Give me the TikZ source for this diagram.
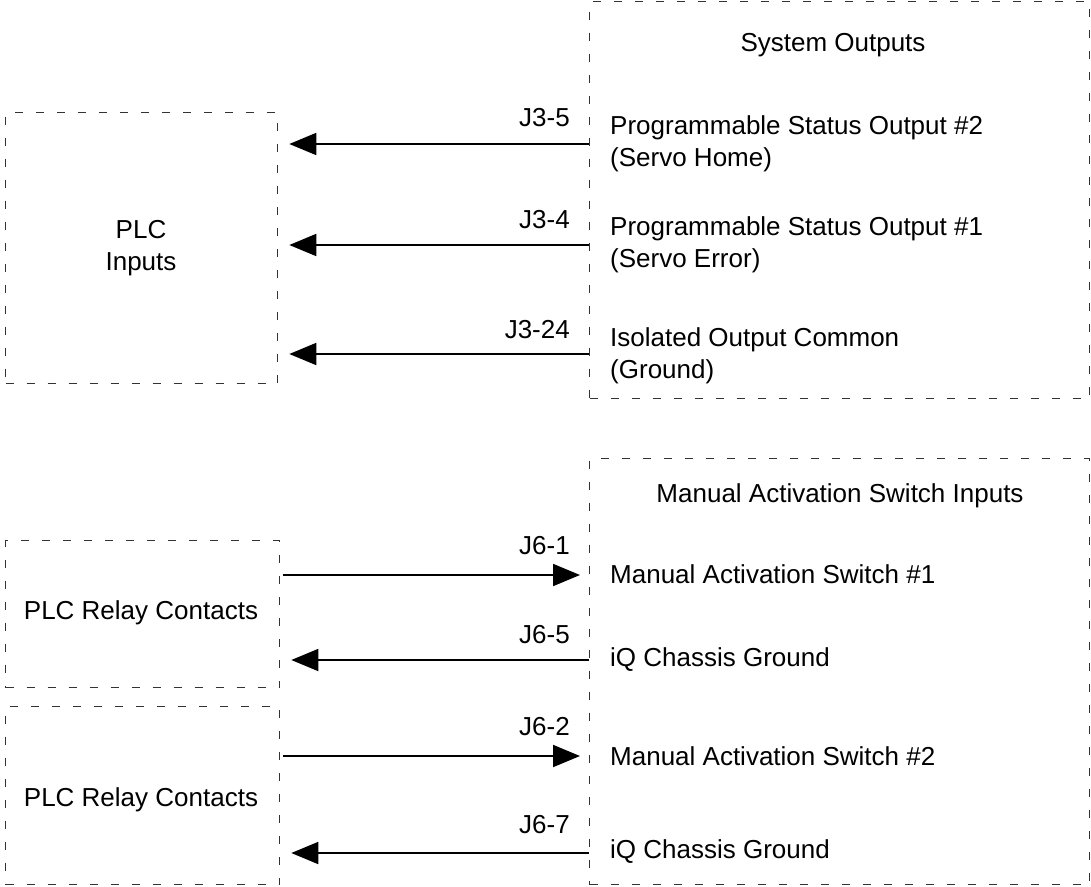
\documentclass[tikz,border=0pt]{standalone}
\usepackage{fontspec}
\setmainfont{Liberation Sans}
\usetikzlibrary{arrows.meta}
\begin{document}
\begin{tikzpicture}[x=1pt,y=-1pt,
  box/.style={draw=black!80, line width=1.3pt, dash pattern=on 8pt off 13pt, anchor=north west, inner sep=0pt},
  txt/.style={font=\fontsize{26}{32}\selectfont, inner sep=0pt},
  lbl/.style={font=\fontsize{26}{32}\selectfont, inner sep=0pt, anchor=east},
  arr/.style={line width=1.8pt, -{Triangle[length=27pt,width=22pt]}}]
\useasboundingbox (0,0) rectangle (1091,886);
% boxes
\node[box, minimum width=500pt, minimum height=397pt] (sys) at (589,1) {};
\node[box, minimum width=272pt, minimum height=271pt] (plc) at (5,112) {};
\node[box, minimum width=500pt, minimum height=426pt] (man) at (589,458) {};
\node[box, minimum width=274pt, minimum height=147pt] (r1) at (5,540) {};
\node[box, minimum width=274pt, minimum height=178pt] (r2) at (5,706) {};
% titles
\node[txt] (systitle) at (833,45) {System Outputs};
\node[txt] (mantitle) at (840,496) {Manual Activation Switch Inputs};
\node[txt, align=center] (plct) at (141,248) {PLC\\Inputs};
\node[txt] (r1t) at (141,613) {PLC Relay Contacts};
\node[txt] (r2t) at (141,800) {PLC Relay Contacts};
% right texts
\node[txt, anchor=west, align=left] (o2) at (610,144) {Programmable Status Output \#2\\(Servo Home)};
\node[txt, anchor=west, align=left] (o1) at (610,245) {Programmable Status Output \#1\\(Servo Error)};
\node[txt, anchor=west, align=left] (oc) at (610,356) {Isolated Output Common\\(Ground)};
\node[txt, anchor=west] (m1) at (610,574) {Manual Activation Switch \#1};
\node[txt, anchor=west] (g1) at (610,660) {iQ Chassis Ground};
\node[txt, anchor=west] (m2) at (610,756) {Manual Activation Switch \#2};
\node[txt, anchor=west] (g2) at (610,852) {iQ Chassis Ground};
% coordinates
\coordinate (a1) at (589,144);
\coordinate (a2) at (589,245);
\coordinate (a3) at (589,354);
\coordinate (b1) at (589,575);
\coordinate (b2) at (589,660);
\coordinate (b3) at (589,756);
\coordinate (b4) at (589,853);
% arrows
\draw[arr, shorten >=11pt] (a1) -- (a1 -| plc.east);
\draw[arr, shorten >=11pt] (a2) -- (a2 -| plc.east);
\draw[arr, shorten >=11pt] (a3) -- (a3 -| plc.east);
\draw[arr, shorten <=3pt, shorten >=9pt] (b1 -| r1.east) -- (b1);
\draw[arr, shorten >=11pt] (b2) -- (b2 -| r1.east);
\draw[arr, shorten <=3pt, shorten >=9pt] (b3 -| r2.east) -- (b3);
\draw[arr, shorten >=11pt] (b4) -- (b4 -| r2.east);
% labels
\node[lbl] (l1) at (570,118) {J3-5};
\node[lbl] (l2) at (570,220) {J3-4};
\node[lbl] (l3) at (570,330) {J3-24};
\node[lbl] (l4) at (570,546) {J6-1};
\node[lbl] (l5) at (570,635) {J6-5};
\node[lbl] (l6) at (570,727) {J6-2};
\node[lbl] (l7) at (570,825) {J6-7};
\end{tikzpicture}
\end{document}
